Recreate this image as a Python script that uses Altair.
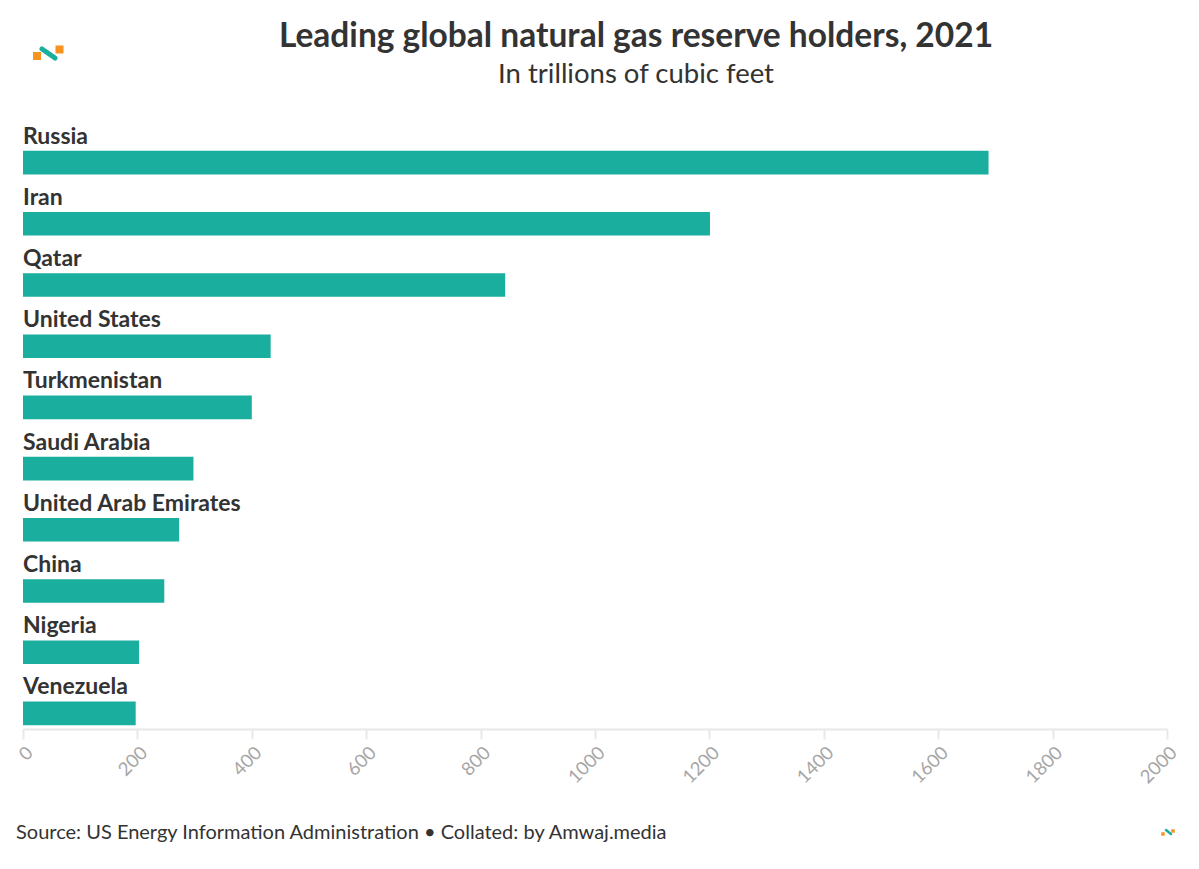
import altair as alt
import pandas as pd

countries = ["Russia", "Iran", "Qatar", "United States", "Turkmenistan",
             "Saudi Arabia", "United Arab Emirates", "China", "Nigeria", "Venezuela"]
reserves = [1688, 1201, 843, 433, 400, 298, 273, 247, 203, 197]
x_ticks = [0, 200, 400, 600, 800, 1000, 1200, 1400, 1600, 1800, 2000]

title_text = "Leading global natural gas reserve holders, 2021"
subtitle_text = "In trillions of cubic feet"
footer_text = "Source: US Energy Information Administration \u2022 Collated: by Amwaj.media"

df = pd.DataFrame({"country": countries, "reserves": reserves})

FONT = "Lato"
TEXT = "#333333"
BAR = "#1aae9f"

y_enc = alt.Y("country:N", sort=countries, axis=None,
              scale=alt.Scale(paddingInner=0, paddingOuter=0))
x_enc = alt.X("reserves:Q",
              scale=alt.Scale(domain=[0, 2000], nice=False),
              axis=alt.Axis(values=x_ticks, title=None, grid=False, format="d",
                            domainColor="#e8e8e8", tickColor="#e8e8e8",
                            tickSize=10, domainWidth=2, tickWidth=2,
                            labelAngle=-45, labelColor="#a6a6a6",
                            labelFontSize=18.5, labelFont=FONT, labelPadding=4))

bars = alt.Chart(df).mark_bar(height=23.6, yOffset=15, color=BAR).encode(
    x=x_enc, y=y_enc)

labels = alt.Chart(df).mark_text(
    align="left", baseline="alphabetic", dy=-4, font=FONT, fontSize=23,
    fontWeight="bold", color=TEXT).encode(
    x=alt.value(0), y=y_enc, text="country:N")

title = alt.Chart(pd.DataFrame({"t": [title_text]})).mark_text(
    align="center", baseline="alphabetic", font=FONT, fontSize=33.5,
    fontWeight="bold", color=TEXT).encode(
    x=alt.value(613), y=alt.value(-70), text="t:N")

subtitle = alt.Chart(pd.DataFrame({"t": [subtitle_text]})).mark_text(
    align="center", baseline="alphabetic", font=FONT, fontSize=27.5,
    color=TEXT).encode(
    x=alt.value(613), y=alt.value(-34), text="t:N")

footer = alt.Chart(pd.DataFrame({"t": [footer_text]})).mark_text(
    align="left", baseline="middle", font=FONT, fontSize=20, color=TEXT).encode(
    x=alt.value(-7), y=alt.value(716), text="t:N")

# decorative logos
logo_sq = pd.DataFrame({"px": [14, 36.5, 1140, 1150], "py": [-61, -67.5, 717, 714],
                        "s": [64, 64, 12, 12]})
squares = alt.Chart(logo_sq).mark_square(color="#f7931e", opacity=1).encode(
    x=alt.X("px:Q", scale=None), y=alt.Y("py:Q", scale=None),
    size=alt.Size("s:Q", scale=None))
logo_ln = pd.DataFrame({"px": [19, 1143], "py": [-68, 713], "px2": [32, 1148], "py2": [-59, 717], "w": [5, 2.5]})
lines = alt.Chart(logo_ln).mark_rule(color=BAR, strokeCap="round").encode(
    x=alt.X("px:Q", scale=None), y=alt.Y("py:Q", scale=None),
    x2="px2:Q", y2="py2:Q", strokeWidth=alt.StrokeWidth("w:Q", scale=None))

chart = alt.layer(bars, labels, title, subtitle, footer, squares, lines).properties(
    width=1144, height=612,
    background="white",
    padding={"left": 15, "top": 109, "right": 24, "bottom": 125},
    autosize=alt.AutoSizeParams(type="none"),
).configure_view(strokeWidth=0, stroke="transparent")

chart.save("out.html", embed_options={"renderer": "svg", "actions": False})
